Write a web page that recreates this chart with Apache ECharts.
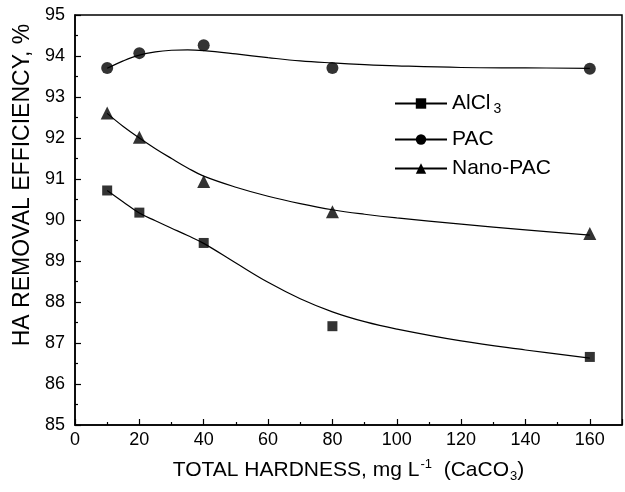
<!DOCTYPE html>
<html>
<head>
<meta charset="utf-8">
<script src="https://cdn.jsdelivr.net/npm/echarts@6/dist/echarts.min.js"></script>
<style>html,body{margin:0;padding:0;background:#fff}#c{width:625px;height:492px}</style>
</head>
<body>
<div id="c"></div>
<script>
// Measured points
const hardness = [10, 20, 40, 80, 160];
const alcl3 = [90.72, 90.18, 89.44, 87.41, 86.66];
const pac = [93.71, 94.07, 94.26, 93.71, 93.69];
const nanoPac = [92.61, 92.02, 90.94, 90.20, 89.67];

// Fitted curves
const curveX = [10, 15, 20, 25, 30, 35, 40, 50, 60, 70, 80, 90, 100, 120, 140, 160];
const alcl3Fit = [90.72, 90.44, 90.17, 89.98, 89.80, 89.62, 89.43, 88.95, 88.48, 88.08, 87.76, 87.52, 87.34, 87.05, 86.83, 86.63];
const pacFit = [93.70, 93.88, 94.02, 94.10, 94.14, 94.15, 94.13, 94.05, 93.96, 93.88, 93.83, 93.79, 93.76, 93.72, 93.71, 93.70];
const nanoFit = [92.60, 92.28, 92.00, 91.74, 91.50, 91.27, 91.07, 90.80, 90.58, 90.40, 90.25, 90.14, 90.05, 89.90, 89.76, 89.63];

const xTicks = [0, 20, 40, 60, 80, 100, 120, 140, 160];
const yTicks = [85, 86, 87, 88, 89, 90, 91, 92, 93, 94, 95];

const names = ['AlCl3', 'PAC', 'Nano-PAC'];
const symbols = ['rect', 'circle', 'triangle'];
const symSizes = [10, 12, 13];

function zip(xs, ys) { return xs.map((x, i) => [x, ys[i]]); }

const FONT = 'Liberation Sans, Arial, sans-serif';
const series = [];
const fits = [alcl3Fit, pacFit, nanoFit];
const pts = [alcl3, pac, nanoPac];
for (let i = 0; i < 3; i++) {
  series.push({
    name: names[i], type: 'line', smooth: 0.4, data: zip(curveX, fits[i]),
    symbol: symbols[i], symbolSize: symSizes[i], showSymbol: false,
    lineStyle: { color: '#000', width: 1.2 }, itemStyle: { color: '#000' },
    silent: true, z: 2
  });
  series.push({
    name: names[i], type: 'scatter', data: zip(hardness, pts[i]),
    symbol: symbols[i], symbolSize: symSizes[i],
    itemStyle: { color: '#000' }, z: 3
  });
}

const legendText = {
  fontFamily: FONT, color: '#000', fontSize: 21,
  rich: { a: { fontSize: 21, color: '#000', fontFamily: FONT, lineHeight: 24 },
          s: { fontSize: 14, color: '#000', fontFamily: FONT, verticalAlign: 'bottom', padding: [12, 0, 0, 3] } }
};
function legendFmt(n) { return n === 'AlCl3' ? '{a|AlCl}{s|3}' : '{a|' + n + '}'; }

const chart = echarts.init(document.getElementById('c'), null, { renderer: 'canvas' });
chart.setOption({
  animation: false,
  backgroundColor: '#fff',
  textStyle: { fontFamily: FONT },
  grid: { left: 75, right: 3, top: 15, bottom: 67, show: true, borderColor: '#000', borderWidth: 1.5 },
  legend: [
    { orient: 'vertical', left: 394, top: 93, itemWidth: 52, itemHeight: 13, itemGap: 5, padding: 0,
      data: [names[0]], formatter: legendFmt, textStyle: legendText },
    { orient: 'vertical', left: 394, top: 129, itemWidth: 52, itemHeight: 13, itemGap: 8, padding: 0,
      data: [names[1], names[2]], formatter: legendFmt, textStyle: legendText }
  ],
  xAxis: {
    type: 'value', min: 0, max: 170, interval: 20,
    axisLine: { lineStyle: { color: '#000', width: 1.5 } },
    axisTick: { inside: true, length: 6, lineStyle: { color: '#000', width: 1.2 } },
    minorTick: { show: true, splitNumber: 2, length: 3, lineStyle: { color: '#000', width: 1.2 } },
    splitLine: { show: false },
    axisLabel: { color: '#000', fontSize: 18, fontFamily: FONT, margin: 6, showMaxLabel: false,
      formatter: function (v) { return xTicks.indexOf(v) >= 0 ? String(v) : ''; } },
    name: '{a|TOTAL HARDNESS, mg L}{sup|-1}{a|  (CaCO}{sub|3}{a|)}',
    nameLocation: 'middle', nameGap: 33,
    nameTextStyle: { color: '#000', fontFamily: FONT,
      rich: { a: { fontSize: 21, color: '#000', fontFamily: FONT },
              sup: { fontSize: 13, color: '#000', fontFamily: FONT, verticalAlign: 'top', padding: [0, 0, 12, 1] },
              sub: { fontSize: 13, color: '#000', fontFamily: FONT, verticalAlign: 'bottom', padding: [12, 0, 0, 1] } } }
  },
  yAxis: {
    type: 'value', min: 85, max: 95, interval: 1,
    axisLine: { show: true, lineStyle: { color: '#000', width: 1.5 } },
    axisTick: { show: true, inside: true, length: 6, lineStyle: { color: '#000', width: 1.2 } },
    minorTick: { show: true, splitNumber: 2, length: 3, lineStyle: { color: '#000', width: 1.2 } },
    splitLine: { show: false },
    axisLabel: { color: '#000', fontSize: 18, fontFamily: FONT, margin: 10,
      formatter: function (v) { return yTicks.indexOf(v) >= 0 ? String(v) : ''; } },
    name: 'HA REMOVAL EFFICIENCY, %', nameLocation: 'middle', nameGap: 40, nameRotate: 90,
    nameTextStyle: { color: '#000', fontSize: 23, fontFamily: FONT, padding: [0, 0, 0, 70] }
  },
  series: series
});
</script>
</body>
</html>
